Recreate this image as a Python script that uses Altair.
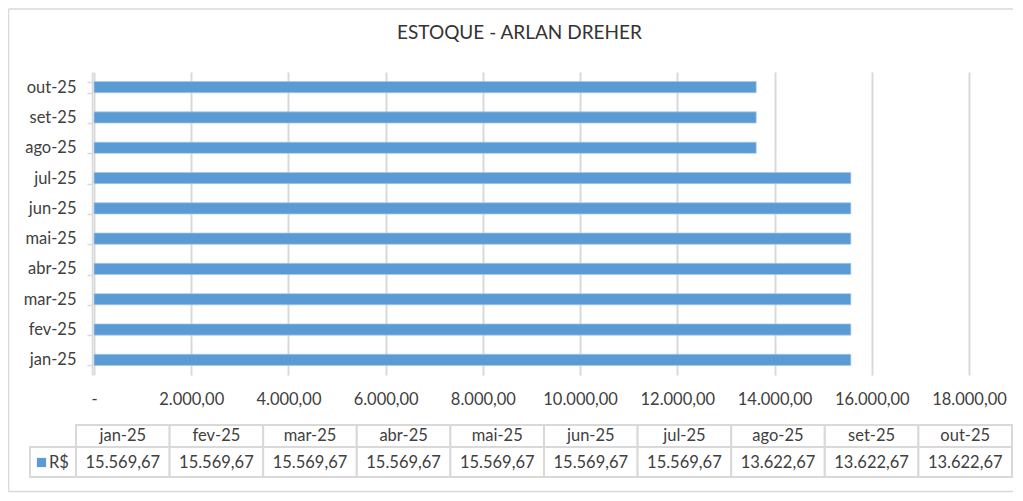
import altair as alt
import pandas as pd

# ---- data ----
months = ["jan-25", "fev-25", "mar-25", "abr-25", "mai-25",
          "jun-25", "jul-25", "ago-25", "set-25", "out-25"]
values = [15569.67, 15569.67, 15569.67, 15569.67, 15569.67,
          15569.67, 15569.67, 13622.67, 13622.67, 13622.67]
x_ticks = [0, 2000, 4000, 6000, 8000, 10000, 12000, 14000, 16000, 18000]
series_name = "R$"
chart_title = "ESTOQUE - ARLAN DREHER"

df = pd.DataFrame({"mes": months, "valor": values})
key_df = pd.DataFrame({"serie": [series_name]})

FONT = "Lato"
FS = 16.5
TXT = "#404040"
GRID = "#d9d9d9"
BLUE = "#5b9bd5"

W, H = 875, 303

# ---- bars ----
bars = alt.Chart(df).mark_bar(color=BLUE, stroke="#a9c9ea", strokeWidth=0.7).encode(
    x=alt.X("valor:Q",
            scale=alt.Scale(domain=[0, 18000], nice=False, zero=True),
            axis=alt.Axis(values=x_ticks, title=None, format=",.2f",
                          labelExpr="datum.value == 0 ? '-' : datum.label",
                          labelOverlap=False, labelFlush=False,
                          grid=True, gridColor=GRID, gridWidth=2,
                          domain=False, ticks=False, labelPadding=16,
                          labelFont=FONT, labelFontSize=FS, labelColor=TXT)),
    y=alt.Y("mes:N", sort=list(reversed(months)),
            scale=alt.Scale(paddingInner=0.63, paddingOuter=0.315),
            axis=alt.Axis(title=None, tickBand="extent", domainColor=GRID,
                          domainWidth=1.5, tickColor=GRID, tickWidth=1.5,
                          tickSize=5, offset=2, labelPadding=11,
                          labelFont=FONT, labelFontSize=FS, labelColor=TXT)),
)

# ---- data table below the plot ----
tx = alt.X("mes:N", sort=months,
           scale=alt.Scale(range=[-18, 918], paddingInner=0, paddingOuter=0),
           axis=None)

header_cells = alt.Chart(df).mark_rect(fill="white", stroke=GRID, strokeWidth=2).encode(
    x=tx, y=alt.value(353), y2=alt.value(375))
value_cells = alt.Chart(df).mark_rect(fill="white", stroke=GRID, strokeWidth=2).encode(
    x=tx, y=alt.value(375), y2=alt.value(405))
header_text = alt.Chart(df).mark_text(font=FONT, fontSize=FS, color=TXT).encode(
    x=tx, y=alt.value(364), text="mes:N")
value_text = alt.Chart(df).transform_calculate(
    lbl="format(datum.valor, ',.2f')"
).mark_text(font=FONT, fontSize=FS, color=TXT).encode(
    x=tx, y=alt.value(390.5), text="lbl:N")

key_cell = alt.Chart(key_df).mark_rect(fill="white", stroke=GRID, strokeWidth=2).encode(
    x=alt.value(-64), x2=alt.value(-18), y=alt.value(375), y2=alt.value(405))
key_square = alt.Chart(key_df).mark_square(color=BLUE, size=85, opacity=1).encode(
    x=alt.value(-52.5), y=alt.value(390.5))
key_text = alt.Chart(key_df).mark_text(font=FONT, fontSize=FS, color=TXT, align="left").encode(
    x=alt.value(-45), y=alt.value(390.5), text="serie:N")

# ---- outer chart border (left, top, bottom; right side lies past the page) ----
b_top = alt.Chart(key_df).mark_rule(color=GRID, strokeWidth=1.5).encode(
    x=alt.value(-85.5), x2=alt.value(919), y=alt.value(-63))
b_bottom = alt.Chart(key_df).mark_rule(color=GRID, strokeWidth=1.5).encode(
    x=alt.value(-85.5), x2=alt.value(919), y=alt.value(419.5))
b_left = alt.Chart(key_df).mark_rule(color=GRID, strokeWidth=1.5).encode(
    x=alt.value(-85.5), y=alt.value(-63), y2=alt.value(419.5))

table = alt.layer(header_cells, value_cells, header_text, value_text,
                  key_cell, key_square, key_text)

chart = alt.layer(b_top, b_bottom, b_left, bars, table).resolve_scale(x="independent").properties(
    width=W, height=H,
    title=alt.TitleParams(chart_title, font=FONT, fontSize=19, fontWeight="normal",
                          color="#333333", anchor="middle", dx=-12, offset=-35),
    padding={"left": 86, "top": 64, "right": 46, "bottom": 118},
    autosize=alt.AutoSizeParams(type="none"),
).configure(
    background="white",
    view=alt.ViewConfig(stroke=None),
)

chart.save("out.html", embed_options={
    "renderer": "svg", "actions": False,
    "formatLocale": {"decimal": ",", "thousands": ".", "grouping": [3],
                     "currency": ["R$ ", ""]},
})
